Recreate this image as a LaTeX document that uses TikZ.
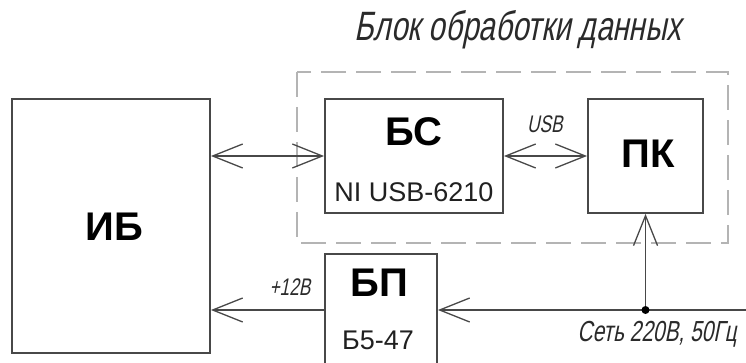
\documentclass[tikz,border=0pt]{standalone}
\usepackage{fontspec}
\setmainfont{Liberation Sans}
\newfontfamily\gostfont[FakeStretch=0.72,FakeSlant=0.2]{Liberation Sans}
\usetikzlibrary{arrows.meta,positioning}
\definecolor{bdline}{HTML}{484848}
\definecolor{bddash}{HTML}{B4B4B4}
\definecolor{bdtext}{HTML}{202020}
\definecolor{bdnote}{HTML}{2A2A2A}

\begin{document}
\begin{tikzpicture}[x=1pt, y=-1pt,
    blk/.style={draw=bdline, line width=1.8pt, inner sep=0pt},
    link/.style={draw=bdline, line width=1.5pt},
    barb/.tip={Straight Barb[length=30pt, width=24pt, line width=1.3pt]},
    big/.style={font=\fontsize{40}{40}\selectfont\bfseries, text=black},
    sub/.style={font=\fontsize{27}{27}\selectfont, text=bdtext},
    note/.style={font=\gostfont\fontsize{24}{24}\selectfont, text=bdnote}]
  \clip (0,0) rectangle (746,363);
  % data processing unit (dashed frame)
  \draw[bddash, line width=2pt, dash pattern=on 25pt off 10pt]
    (297,72) rectangle (728,243);
  \node[note, font=\gostfont\fontsize{41}{41}\selectfont] (title) at (518,30)
    {Блок обработки данных};
  % blocks
  \node[blk, minimum width=198pt, minimum height=254pt] (ib) at (111,226) {};
  \node[blk, minimum width=178pt, minimum height=114pt] (bs) at (414,156) {};
  \node[blk, minimum width=115pt, minimum height=114pt] (pk) at (645.5,156) {};
  \node[blk, minimum width=112pt, minimum height=112pt] (bp) at (381,310) {};
  \node[big] (ib-t) at (114,227) {ИБ};
  \node[big] (bs-t) at (414,132) {БС};
  \node[sub] (bs-s) at (414,192) {NI USB-6210};
  \node[big] (pk-t) at (648,154) {ПК};
  \node[big] (bp-t) at (379,283) {БП};
  \node[sub] (bp-s) at (378,340) {Б5-47};
  % connectors
  \coordinate (mains) at (746,310);
  \coordinate (tap) at (pk.south |- mains);
  \draw[link, {barb}-{barb}] (ib.east |- bs.west) -- (bs.west);
  \draw[link, {barb}-{barb}] (bs.east) -- (pk.west);
  \draw[link, -{barb}] (bp.west) -- (ib.east |- bp.west);
  \draw[link, -{barb}] (mains) -- (bp.east);
  \draw[link, -{barb}] (tap) -- (pk.south);
  \fill[black] (tap) circle (4pt);
  % labels
  \node[note] (usb) at (545,124) {USB};
  \node[note] (plus) at (290,287) {+12В};
  \node[note, font=\gostfont\fontsize{29}{29}\selectfont] (net) at (657,334)
    {Сеть 220В, 50Гц};
\end{tikzpicture}
\end{document}
